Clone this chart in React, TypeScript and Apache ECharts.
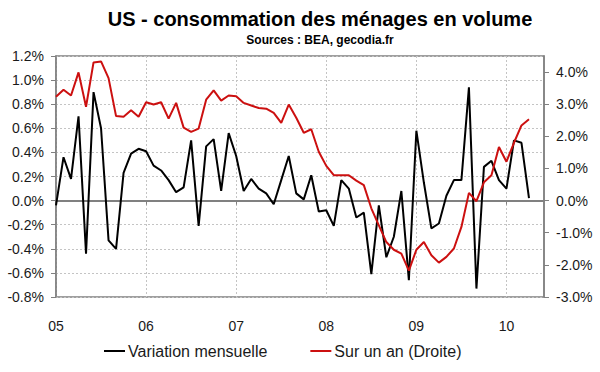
import React, { useEffect, useRef } from "react";
import * as echarts from "echarts";

const TITLE = "US - consommation des ménages en volume";
const SUBTITLE = "Sources : BEA, gecodia.fr";
const SERIES_NAMES = ["Variation mensuelle", "Sur un an (Droite)"];

// months Jan 2005 .. Jun 2010 (axis runs a little past the last data point)
const YEARS = ["2005", "2006", "2007", "2008", "2009", "2010"];
const MONTHS = ["01", "02", "03", "04", "05", "06", "07", "08", "09", "10", "11", "12"];
const CATEGORIES: string[] = [];
YEARS.forEach((y) => MONTHS.forEach((m) => CATEGORIES.push(`${y}-${m}`)));
CATEGORIES.splice(66);

// monthly change (%), left axis
const MONTHLY = [
  -0.04, 0.36, 0.18, 0.70, -0.44, 0.90, 0.60, -0.33, -0.40, 0.23, 0.39, 0.43,
  0.41, 0.29, 0.25, 0.17, 0.07, 0.11, 0.50, -0.21, 0.45, 0.51, 0.08, 0.56,
  0.37, 0.08, 0.18, 0.10, 0.06, -0.03, 0.17, 0.37, 0.06, 0.01, 0.21, -0.09,
  -0.08, -0.21, 0.17, 0.10, -0.14, -0.10, -0.61, -0.04, -0.47, -0.30, 0.08, -0.66,
  0.58, 0.15, -0.23, -0.19, 0.04, 0.17, 0.17, 0.94, -0.73, 0.28, 0.33, 0.17,
  0.10, 0.50, 0.48, 0.02,
];

// year-on-year change (%), right axis
const YEARLY = [
  3.23, 3.45, 3.27, 3.99, 2.92, 4.30, 4.33, 3.81, 2.63, 2.61, 2.81, 2.61,
  3.06, 2.99, 3.06, 2.55, 3.04, 2.27, 2.14, 2.24, 3.14, 3.43, 3.11, 3.27,
  3.25, 3.04, 2.96, 2.88, 2.86, 2.73, 2.42, 2.99, 2.58, 2.11, 2.22, 1.52,
  1.08, 0.79, 0.79, 0.79, 0.62, 0.48, -0.24, -0.77, -1.29, -1.53, -1.65, -2.18,
  -1.53, -1.29, -1.70, -1.93, -1.75, -1.49, -0.82, 0.24, -0.02, 0.57, 0.79, 1.67,
  1.21, 1.80, 2.34, 2.53,
];

const LEFT_TICKS = [-0.8, -0.6, -0.4, -0.2, 0, 0.2, 0.4, 0.6, 0.8, 1.0, 1.2];
const RIGHT_TICKS = [-3, -2, -1, 0, 1, 2, 3, 4];

const FONT = "'Liberation Sans', Arial, sans-serif";
const GRAY = "#808080";
const GRID_COLOR = "#c4c4c4";
const TEXT = "#1a1a1a";

const isYearStart = (i: number) => i % 12 === 0;

export default function App() {
  const ref = useRef<HTMLDivElement>(null);
  useEffect(() => {
    if (!ref.current) return;
    document.body.style.margin = "0";
    const chart = echarts.init(ref.current, undefined, { renderer: "svg" });
    chart.setOption({
      animation: false,
      backgroundColor: "#ffffff",
      textStyle: { fontFamily: FONT },
      graphic: [
        {
          type: "text",
          x: 320,
          y: 19,
          style: {
            text: TITLE,
            font: `bold 20px ${FONT}`,
            fill: "#000",
            textAlign: "center",
            textVerticalAlign: "middle",
          },
        },
        {
          type: "text",
          x: 320,
          y: 40,
          style: {
            text: SUBTITLE,
            font: `bold 12px ${FONT}`,
            fill: "#000",
            textAlign: "center",
            textVerticalAlign: "middle",
          },
        },
      ],
      legend: {
        left: 104,
        top: 343,
        padding: 0,
        itemGap: 43,
        itemWidth: 21,
        itemHeight: 2,
        icon: "rect",
        textStyle: { fontSize: 16, color: TEXT, fontFamily: FONT, padding: [0, 0, 0, -2] },
        data: SERIES_NAMES,
      },
      grid: {
        left: 56,
        right: 56,
        top: 56,
        bottom: 75,
        show: true,
        borderColor: GRAY,
        borderWidth: 1.5,
        backgroundColor: "#ffffff",
      },
      xAxis: [
        {
          type: "category",
          data: CATEGORIES,
          boundaryGap: false,
          position: "bottom",
          axisLine: { show: true, onZero: true, lineStyle: { color: GRAY, width: 2 } },
          axisTick: {
            show: true,
            length: 4,
            interval: (i: number) => isYearStart(i),
            lineStyle: { color: GRAY, width: 1 },
          },
          axisLabel: { show: false },
          splitLine: {
            show: true,
            interval: (i: number) => isYearStart(i),
            lineStyle: { color: GRID_COLOR, type: [2, 2], width: 1 },
          },
        },
        {
          type: "category",
          data: CATEGORIES,
          boundaryGap: false,
          position: "bottom",
          axisLine: { show: false, onZero: false },
          axisTick: { show: false },
          splitLine: { show: false },
          axisLabel: {
            show: true,
            margin: 22,
            fontSize: 14,
            color: TEXT,
            fontFamily: FONT,
            interval: (i: number) => isYearStart(i),
            formatter: (v: string) => v.slice(2, 4),
          },
        },
      ],
      yAxis: [
        {
          type: "value",
          min: -0.8,
          max: 1.2,
          interval: 0.2,
          position: "left",
          axisLine: { show: true, lineStyle: { color: GRAY, width: 1.5 } },
          axisTick: { show: true, length: 5, lineStyle: { color: GRAY } },
          axisLabel: {
            margin: 12,
            fontSize: 14,
            color: TEXT,
            fontFamily: FONT,
            formatter: (v: number) => {
              const t = LEFT_TICKS.find((x) => Math.abs(x - v) < 1e-6);
              return t === undefined ? "" : `${t.toFixed(1)}%`;
            },
          },
          splitLine: { show: true, lineStyle: { color: GRID_COLOR, type: [2, 2], width: 1 } },
        },
        {
          type: "value",
          min: -3,
          max: 4.5,
          interval: 1,
          position: "right",
          axisLine: { show: true, lineStyle: { color: GRAY, width: 1.5 } },
          axisTick: { show: true, length: 5, lineStyle: { color: GRAY }, customValues: RIGHT_TICKS },
          axisLabel: {
            margin: 12,
            fontSize: 14,
            color: TEXT,
            fontFamily: FONT,
            customValues: RIGHT_TICKS,
            formatter: (v: number) => {
              const t = RIGHT_TICKS.find((x) => Math.abs(x - v) < 1e-6);
              return t === undefined ? "" : `${t.toFixed(1)}%`;
            },
          },
          splitLine: { show: false },
        },
      ],
      series: [
        {
          name: SERIES_NAMES[0],
          type: "line",
          xAxisIndex: 0,
          yAxisIndex: 0,
          data: MONTHLY,
          symbol: "none",
          lineStyle: { color: "#000000", width: 2 },
          itemStyle: { color: "#000000" },
        },
        {
          name: SERIES_NAMES[1],
          type: "line",
          xAxisIndex: 0,
          yAxisIndex: 1,
          data: YEARLY,
          symbol: "none",
          lineStyle: { color: "#cc1010", width: 2 },
          itemStyle: { color: "#cc1010" },
        },
      ],
    });
    return () => chart.dispose();
  }, []);
  return (
    <div
      ref={ref}
      style={{ position: "absolute", left: 0, top: 0, width: 600, height: 372 }}
    />
  );
}
